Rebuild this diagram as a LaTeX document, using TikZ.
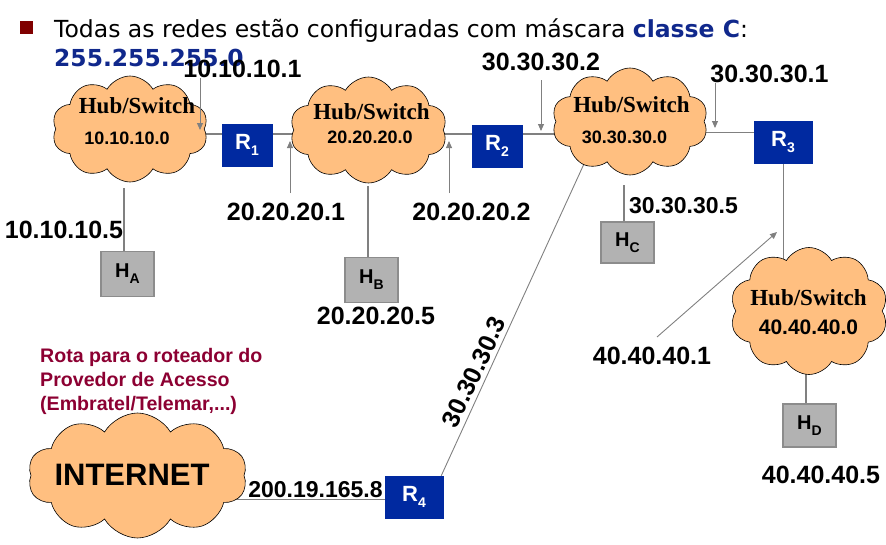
\documentclass[tikz,border=0pt]{standalone}
\usepackage{fontspec}
\setmainfont{Liberation Sans}
\newfontfamily\serifb{Liberation Serif}
\newfontfamily\dvs{DejaVu Sans}
\usetikzlibrary{shapes.symbols,arrows.meta,calc}
\pgfdeclarelayer{bg}
\pgfsetlayers{bg,main}
\definecolor{cloudfill}{RGB}{255,191,128}
\definecolor{routerblue}{RGB}{0,41,160}
\definecolor{hostgray}{RGB}{178,178,178}
\definecolor{hostborder}{RGB}{140,140,140}
\definecolor{linegray}{RGB}{128,128,128}
\definecolor{titleblue}{RGB}{16,40,140}
\definecolor{bulletred}{RGB}{128,0,0}
\definecolor{rotared}{RGB}{140,0,50}
\newcommand\mysub[2]{#1\raisebox{-6pt}{\fontsize{14}{14}\selectfont #2}}
\tikzset{
  cloudnode/.style={cloud, cloud puffs=10, cloud puff arc=120, cloud ignores aspect,
    draw=black, line width=0.6pt, fill=cloudfill, inner sep=0pt},
  router/.style={fill=routerblue, draw=routerblue, minimum width=50pt, minimum height=42pt,
    inner sep=0pt, text=white, font=\bfseries\fontsize{22}{22}\selectfont},
  host/.style={fill=hostgray, draw=hostborder, line width=1.2pt, minimum width=53pt,
    minimum height=45pt, inner sep=0pt, font=\bfseries\fontsize{20}{20}\selectfont},
  ip/.style={font=\bfseries\fontsize{25}{25}\selectfont, inner sep=0pt},
  hubt/.style={font=\serifb\bfseries\fontsize{23}{23}\selectfont, inner sep=0pt},
  netip/.style={font=\bfseries\fontsize{18}{18}\selectfont, inner sep=0pt},
  thickline/.style={draw=linegray, line width=2pt},
  thinline/.style={draw=linegray, line width=0.9pt},
  arr/.style={draw=linegray, line width=0.9pt, -{Triangle[length=7pt,width=6pt]}}
}
\begin{document}
\begin{tikzpicture}[x=1pt,y=-1pt]
\useasboundingbox (0,0) rectangle (886,544);
% title
\node[fill=bulletred, minimum size=13pt, inner sep=0pt] (bullet) at (26,27.5) {};
\node[anchor=base west, inner sep=0pt, font=\dvs\fontsize{23.5}{23.5}\selectfont] (title) at (54,37)
  {Todas as redes estão configuradas com máscara {\bfseries\color{titleblue}classe C}:};
\node[anchor=base west, inner sep=0pt, text=titleblue, font=\dvs\bfseries\fontsize{23.4}{23.4}\selectfont] (mask) at (54,66) {255.255.255.0};

% clouds
\node[cloudnode, minimum width=156pt, minimum height=106pt] (c1) at (130,129) {};
\node[cloudnode, minimum width=157pt, minimum height=106pt] (c2) at (368.5,130) {};
\node[cloudnode, minimum width=156pt, minimum height=107pt] (c3) at (630,121.5) {};
\node[cloudnode, minimum width=158pt, minimum height=127pt] (c4) at (809,311) {};
\node[cloudnode, minimum width=219pt, minimum height=125pt] (inet) at (137.5,475.5) {};

\node[hubt] (c1h) at (137,106) {Hub/Switch};
\node[netip] (c1n) at (127,138) {10.10.10.0};
\node[hubt] (c2h) at (371.5,112) {Hub/Switch};
\node[netip] (c2n) at (370,137.5) {20.20.20.0};
\node[hubt] (c3h) at (631.5,105) {Hub/Switch};
\node[netip] (c3n) at (624.5,137.5) {30.30.30.0};
\node[hubt] (c4h) at (808.5,298) {Hub/Switch};
\node[netip, font=\bfseries\fontsize{21}{21}\selectfont] (c4n) at (808.5,327) {40.40.40.0};
\node[inner sep=0pt, font=\bfseries\fontsize{31}{31}\selectfont] (inett) at (132,475) {INTERNET};

% routers
\node[router] (R1) at (247,145) {\mysub{R}{1}};
\node[router] (R2) at (497,146) {\mysub{R}{2}};
\node[router, minimum width=58pt] (R3) at (783,142) {\mysub{R}{3}};
\node[router, minimum width=58pt] (R4) at (414,497) {\mysub{R}{4}};

% hosts
\node[host] (HA) at (127.5,274) {\mysub{H}{A}};
\node[host] (HB) at (371.5,280) {\mysub{H}{B}};
\node[host, minimum height=41pt] (HC) at (627.5,242.5) {\mysub{H}{C}};
\node[host, minimum height=43pt] (HD) at (809.5,425.5) {\mysub{H}{D}};

% connectors under the shapes
\begin{pgfonlayer}{bg}
\draw[thickline] ([yshift=11pt]R1.west) -- ([yshift=11pt]R1.west -| c1.center);
\draw[thickline] ([yshift=11pt]R1.east) -- ([yshift=11pt]R1.east -| c2.center);
\draw[thickline] ([yshift=12pt]R2.west) -- ([yshift=12pt]R2.west -| c2.center);
\draw[thickline] ([yshift=12pt]R2.east) -- ([yshift=12pt]R2.east -| c3.center);
\draw[thinline] ([yshift=10pt]R3.west) -- ([yshift=10pt]R3.west -| c3.center);
\draw[thinline] (R3.center) -- (R3.center |- c4.center);
\draw[thinline] ([xshift=-2pt]R4.north east) -- ($(c3.center)+(-44,38)$);
\draw[thinline] ([yshift=-2pt]R4.west) -- ([yshift=-2pt]R4.west -| inet.center);
\draw[thickline] ([xshift=-3.5pt]HD.north) -- ++(0,-40);
\end{pgfonlayer}
\draw[thickline] ([xshift=-3.5pt]HA.north) -- ++(0,-63);
\draw[thickline] ([xshift=-3.5pt]HB.north) -- ++(0,-71);
\draw[thickline] ([xshift=-3.5pt]HC.north) -- ++(0,-36);

% address labels
\node[ip] (l101) at (242.5,69) {10.10.10.1};
\node[ip] (l105) at (64,230) {10.10.10.5};
\node[ip] (l201) at (286,212) {20.20.20.1};
\node[ip] (l202) at (471.5,212) {20.20.20.2};
\node[ip] (l205) at (376,316) {20.20.20.5};
\node[ip] (l302) at (541,62) {30.30.30.2};
\node[ip] (l301) at (769.5,73.5) {30.30.30.1};
\node[ip, font=\bfseries\fontsize{23}{23}\selectfont] (l305) at (683.5,206) {30.30.30.5};
\node[ip, rotate=65] (l303) at (474,372) {30.30.30.3};
\node[ip] (l401) at (652,356) {40.40.40.1};
\node[ip] (l405) at (821,475) {40.40.40.5};
\node[ip, font=\bfseries\fontsize{23}{23}\selectfont] (l2001) at (315.5,490) {200.19.165.8};

% arrows
\coordinate (a1s) at (200,78);   \coordinate (a1e) at (200,130);
\coordinate (a2s) at (290,193);  \coordinate (a2e) at (290,141);
\coordinate (a3s) at (449,193);  \coordinate (a3e) at (449,141);
\coordinate (a4s) at (541,80);   \coordinate (a4e) at (541,131);
\coordinate (a5s) at (715,83);   \coordinate (a5e) at (715,128);
\coordinate (a6s) at (657,337);  \coordinate (a6e) at (777,232);
\draw[arr] (a1s) -- (a1e);
\draw[arr] (a2s) -- (a2e);
\draw[arr] (a3s) -- (a3e);
\draw[arr] (a4s) -- (a4e);
\draw[arr] (a5s) -- (a5e);
\draw[arr] (a6s) -- (a6e);

% route note
\node[anchor=north west, align=left, inner sep=0pt, text=rotared,
  font=\bfseries\fontsize{19.6}{24}\selectfont] (rota) at (40,348)
  {Rota para o roteador do\\Provedor de Acesso\\(Embratel/Telemar,...)};
\end{tikzpicture}
\end{document}
